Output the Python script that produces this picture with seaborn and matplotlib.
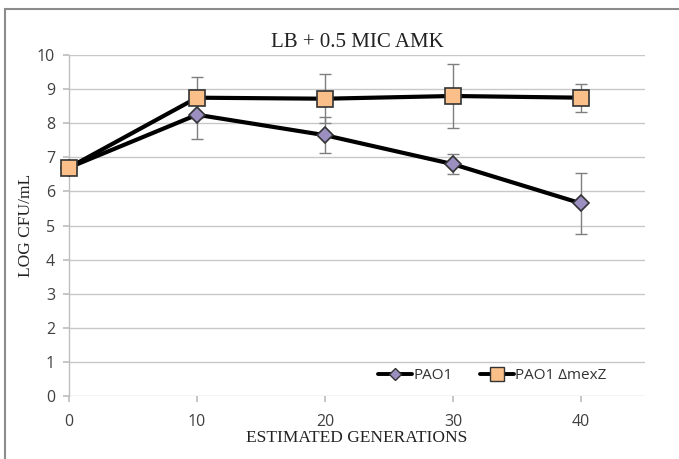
import matplotlib
matplotlib.use("Agg")
import matplotlib.pyplot as plt
import seaborn as sns
import pandas as pd
import numpy as np
from matplotlib.lines import Line2D

generations = [0, 10, 20, 30, 40]
pao1 = [6.70, 8.25, 7.65, 6.80, 5.65]
pao1_err = [0.0, 0.70, 0.53, 0.30, 0.90]
mexz = [6.70, 8.75, 8.72, 8.80, 8.75]
mexz_err = [0.0, 0.60, 0.72, 0.94, 0.41]
y_ticks = list(range(0, 11))
x_ticks = [0, 10, 20, 30, 40]

sns.set_theme(style="white")
plt.rcParams['font.family'] = ['Liberation Sans', 'DejaVu Sans']

df = pd.DataFrame({
    "gen": generations * 2,
    "val": pao1 + mexz,
    "err": pao1_err + mexz_err,
    "strain": ["PAO1"] * 5 + ["PAO1 ΔmexZ"] * 5,
})

fig = plt.figure(figsize=(6.79, 4.59), dpi=100)
fig.patch.set_facecolor("white")
ax = fig.add_axes([0.1016, 0.1373, 0.8484, 0.7427])

border = plt.Rectangle((0.008, -0.01), 1.0, 0.99, transform=fig.transFigure,
                       fill=False, edgecolor="#8c8c8c", linewidth=1.5)
fig.add_artist(border)

for sub in ["PAO1", "PAO1 ΔmexZ"]:
    d = df[df.strain == sub]
    ax.errorbar(d.gen, d.val, yerr=d.err, fmt="none", ecolor="#7f7f7f",
                elinewidth=1.0, capsize=4, capthick=1.0, zorder=2)

sns.lineplot(data=df, x="gen", y="val", hue="strain", style="strain",
             palette={"PAO1": "black", "PAO1 ΔmexZ": "black"},
             markers={"PAO1": "D", "PAO1 ΔmexZ": "s"}, dashes=False,
             linewidth=3.0, ax=ax, legend=False, zorder=3)
lines = ax.get_lines()
for ln, face, ms in zip(lines[-2:], ["#9b8fc0", "#fbc08a"], [8, 12]):
    ln.set_markerfacecolor(face)
    ln.set_markeredgecolor("#333333")
    ln.set_markeredgewidth(1.2)
    ln.set_markersize(ms)
    ln.set_clip_on(False)

ax.set_xlim(0, 45)
ax.set_ylim(0, 10)
ax.set_yticks(y_ticks)
ax.set_xticks(x_ticks)
ax.grid(axis="y", color="#c8c8c8", linewidth=1.0)
ax.set_axisbelow(True)
for s in ["top", "right", "bottom"]:
    ax.spines[s].set_visible(False)
ax.spines["left"].set_color("#bfbfbf")
ax.spines["left"].set_linewidth(1.0)
ax.tick_params(axis="both", labelsize=12, colors="#404040", length=4,
               color="#bfbfbf", direction="out", left=True, bottom=True)
for lab in ax.get_xticklabels() + ax.get_yticklabels():
    lab.set_family(["Open Sans", "DejaVu Sans"])
    lab.set_fontsize(11.5)
ax.tick_params(axis="x", pad=9)
ax.tick_params(axis="y", pad=6)

ax.set_title("LB + 0.5 MIC AMK", family="Liberation Serif", fontsize=15,
             color="#222222", pad=6)
ax.set_xlabel("ESTIMATED GENERATIONS", family="Liberation Serif", fontsize=12.5,
              color="#222222", labelpad=0)
ax.set_ylabel("LOG CFU/mL", family="Liberation Serif", fontsize=12.5,
              color="#222222", labelpad=2)

handles = [
    Line2D([], [], color="black", linewidth=2.8, marker="D", markersize=6,
           markerfacecolor="#9b8fc0", markeredgecolor="#333333"),
    Line2D([], [], color="black", linewidth=2.8, marker="s", markersize=10,
           markerfacecolor="#fbc08a", markeredgecolor="#333333"),
]
ax.legend(handles, ["PAO1", "PAO1 ΔmexZ"], ncol=2, frameon=False,
          loc="center", bbox_to_anchor=(0.735, 0.06),
          prop={"family": ["Open Sans", "DejaVu Sans"], "size": 11},
          handlelength=2.2, columnspacing=1.8, handletextpad=0.1,
          labelcolor="#333333")

fig.savefig("out.png", dpi=100, facecolor="white")
